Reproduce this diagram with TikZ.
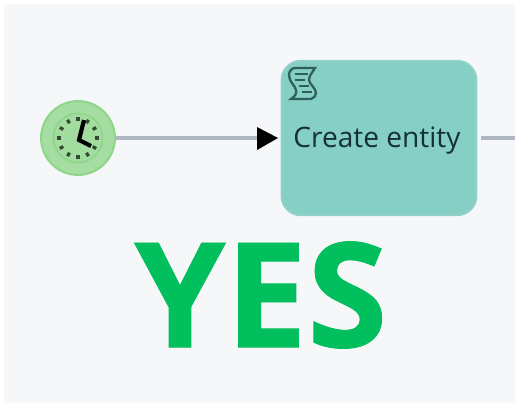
\documentclass[tikz,border=0pt]{standalone}
\usepackage{fontspec}
\setmainfont{Open Sans}
\newfontfamily\yesfont[BoldFeatures={FakeBold=0.6}]{Open Sans}
\usetikzlibrary{calc,positioning,arrows.meta}
\definecolor{pagebg}{HTML}{F6F7F9}
\definecolor{taskfill}{HTML}{86CFC5}
\definecolor{taskedge}{HTML}{90D2C9}
\definecolor{flowline}{HTML}{AEB6C2}
\definecolor{eventfill}{HTML}{A6DDA2}
\definecolor{eventedge}{HTML}{8FD68B}
\definecolor{scriptline}{HTML}{2F5F5C}
\definecolor{yesgreen}{HTML}{02BF5E}
\definecolor{textdark}{HTML}{14303D}
\tikzset{
    taskbox/.style={draw=taskedge, line width=1pt, fill=taskfill, rounded corners=11pt, inner sep=0pt, minimum width=111pt, minimum height=88pt},
    timerevent/.style={circle, draw=eventedge, line width=1.2pt, fill=eventfill, inner sep=0pt, minimum size=42pt},
    flow/.style={draw=flowline, line width=1.9pt},
    clocktick/.style={draw=black!65!eventedge, line width=1.8pt},
    scriptstroke/.style={draw=scriptline, line width=1.3pt}
}
\begin{document}
\begin{tikzpicture}[x=0.02cm, y=-0.02cm]
    \useasboundingbox (0,0) rectangle (515,407);
    \fill[pagebg] (4,4) rectangle (515,403);

    \node[timerevent] (start) at (78,138) {};
    \node[circle, draw=eventedge, line width=1pt, fill=eventfill!85!eventedge, inner sep=0pt, minimum size=28pt] (clock) at (78,138) {};
    \node[taskbox] (task) at (379,138) {};
    \node[font=\fontsize{16pt}{18pt}\selectfont, text=textdark, inner sep=0pt] (tasklabel) at (377,141) {Create entity};
    \coordinate (out) at (515,138);

    \draw[flow] (start) -- (257,138);
    \fill[black] (257,127) -- (278,138) -- (257,150) -- cycle;
    \draw[flow] (481,138) -- (out);

    % clock face
    \draw[clocktick] ($(clock)+(0:17)$) -- ($(clock)+(0:21)$);
    \draw[clocktick] ($(clock)+(30:17)$) -- ($(clock)+(30:21)$);
    \draw[clocktick] ($(clock)+(60:17)$) -- ($(clock)+(60:21)$);
    \draw[clocktick] ($(clock)+(90:17)$) -- ($(clock)+(90:21)$);
    \draw[clocktick] ($(clock)+(120:17)$) -- ($(clock)+(120:21)$);
    \draw[clocktick] ($(clock)+(150:17)$) -- ($(clock)+(150:21)$);
    \draw[clocktick] ($(clock)+(180:17)$) -- ($(clock)+(180:21)$);
    \draw[clocktick] ($(clock)+(210:17)$) -- ($(clock)+(210:21)$);
    \draw[clocktick] ($(clock)+(240:17)$) -- ($(clock)+(240:21)$);
    \draw[clocktick] ($(clock)+(270:17)$) -- ($(clock)+(270:21)$);
    \draw[clocktick] ($(clock)+(300:17)$) -- ($(clock)+(300:21)$);
    \draw[clocktick] ($(clock)+(330:17)$) -- ($(clock)+(330:21)$);
    \draw[black, line width=2.4pt] (84,120) -- (79,140) -- (91,146);

    % script marker
    \draw[scriptstroke] (295,68) -- (315,68) .. controls (312,73) and (309,76) .. (309,80) .. controls (309,84) and (316,88) .. (316,93) .. controls (316,96) and (314,98) .. (311,99) -- (291,99) .. controls (295,96) and (297,94) .. (296,90) .. controls (295,85) and (289,82) .. (289,75) .. controls (289,71) and (292,68) .. (295,68) -- cycle;
    \draw[scriptstroke] (295,74) -- (308,74);
    \draw[scriptstroke] (295,80) -- (305,80);
    \draw[scriptstroke] (299,86) -- (309,86);
    \draw[scriptstroke] (302,92) -- (312,92);

    \node[font=\fontsize{83pt}{90pt}\yesfont\bfseries, text=yesgreen, inner sep=0pt] (yes) at (261,295) {YES};
\end{tikzpicture}
\end{document}
